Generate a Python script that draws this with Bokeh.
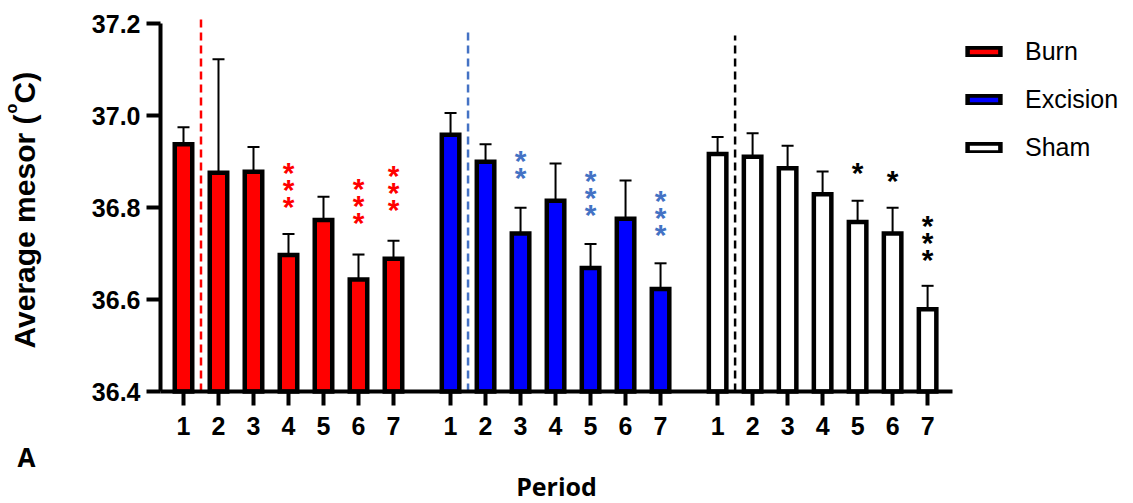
import math
from bokeh.plotting import figure
from bokeh.models import (Range1d, FixedTicker, Whisker, TeeHead, ColumnDataSource,
                          Legend, LegendItem, PrintfTickFormatter)
from bokeh.core.properties import value
from bokeh.embed import file_html
from bokeh.resources import INLINE

# ---------------- data ----------------
periods = [1, 2, 3, 4, 5, 6, 7]
groups = ["Burn", "Excision", "Sham"]

burn_mean = [36.938, 36.876, 36.878, 36.697, 36.773, 36.644, 36.689]
burn_sem = [0.037, 0.247, 0.054, 0.046, 0.051, 0.054, 0.039]
excision_mean = [36.959, 36.900, 36.744, 36.815, 36.669, 36.776, 36.623]
excision_sem = [0.047, 0.038, 0.056, 0.081, 0.052, 0.083, 0.056]
sham_mean = [36.917, 36.911, 36.886, 36.829, 36.769, 36.744, 36.579]
sham_sem = [0.037, 0.051, 0.049, 0.050, 0.046, 0.056, 0.051]

burn_sig = ["", "", "", "***", "", "***", "***"]
excision_sig = ["", "", "**", "", "***", "", "***"]
sham_sig = ["", "", "", "", "*", "*", "***"]

# annotation anchors (deg C) for lowest asterisk of each stack
burn_star_y = [None, None, None, 36.811, None, 36.776, 36.805]
excision_star_y = [None, None, 36.874, None, 36.794, None, 36.750]
sham_star_y = [None, None, None, None, 36.885, 36.868, 36.696]

# dashed marker line tops (deg C), one per group
marker_top = [37.211, 37.192, 37.175]

y_ticks = [36.4, 36.6, 36.8, 37.0, 37.2]

y_title_parts = ["Average mesor (", "o", "C)"]
x_title = "Period"
panel_letter = "A"

# ---------------- styling / layout ----------------
GROUP_STEP = 7.63
fills = ["#FF0000", "#0000FF", "#FFFFFF"]
mark_colors = ["#FF0000", "#4472C4", "#000000"]
BASE = 36.4
Y_AXIS_TOP = 37.2
W, H = 1130, 503
AXIS_L, AXIS_R, AXIS_B = 160, 952, 391   # pixel positions of the drawn axes
PX_PER_X = 35.0
X0 = 0.343                                # x value at the y axis
PX_PER_Y = 459.5


def px_x(px):
    return X0 + (px - AXIS_L) / PX_PER_X


def px_y(py):
    return BASE + (AXIS_B - py) / PX_PER_Y


means = [burn_mean, excision_mean, sham_mean]
sems = [burn_sem, excision_sem, sham_sem]
sigs = [burn_sig, excision_sig, sham_sig]
star_ys = [burn_star_y, excision_star_y, sham_star_y]

p = figure(width=W, height=H,
           x_range=Range1d(px_x(0), px_x(W)), y_range=Range1d(px_y(H), px_y(0)),
           output_backend="svg", toolbar_location=None, min_border=0)
p.title.visible = False
p.xgrid.visible = False
p.ygrid.visible = False
p.outline_line_color = None
p.background_fill_color = "white"
p.border_fill_color = "white"

renderers = []
xs_all = []
labels_map = {}
star_x, star_yy, star_t, star_c, star_off = [], [], [], [], []
dash_x = []
for gi, g in enumerate(groups):
    xs = [per + gi * GROUP_STEP for per in periods]
    xs_all += xs
    for per, x in zip(periods, xs):
        labels_map[x] = str(per)
    src = ColumnDataSource(dict(
        x=xs, top=means[gi],
        upper=[m + s for m, s in zip(means[gi], sems[gi])]))
    r = p.vbar(x="x", top="top", bottom=BASE, width=0.5, source=src,
               fill_color=fills[gi], line_color="black", line_width=4.5,
               line_join="miter")
    renderers.append(r)
    p.add_layout(Whisker(source=src, base="x", upper="upper", lower="top",
                         dimension="height", line_width=2, line_color="black",
                         upper_head=TeeHead(size=12, line_width=2, line_color="black"),
                         lower_head=None))
    for x, s, sy in zip(xs, sigs[gi], star_ys[gi]):
        for k in range(len(s)):
            star_x.append(x)
            star_yy.append(sy)
            star_t.append("*")
            star_c.append(mark_colors[gi])
            star_off.append(4 - 17 * k)
    dash_x.append(periods[0] + 0.5 + gi * GROUP_STEP)

p.segment(x0=dash_x, y0=[BASE] * 3, x1=dash_x, y1=marker_top,
          line_color=mark_colors, line_width=2.5, line_dash="8 5")

star_src = ColumnDataSource(dict(x=star_x, y=star_yy, t=star_t, c=star_c, off=star_off))
p.text(x="x", y="y", text="t", source=star_src, text_color="c", y_offset="off",
       text_align="center", text_baseline="alphabetic",
       text_font=value("Liberation Sans"), text_font_style="bold",
       text_font_size="30px")

# axes, drawn at fixed positions inside a full-canvas frame
for ax in [p.xaxis[0], p.yaxis[0]]:
    ax.axis_line_width = 4
    ax.axis_line_color = "black"
    ax.major_tick_line_width = 4
    ax.major_tick_line_color = "black"
    ax.major_tick_out = 14
    ax.major_tick_in = 0
    ax.minor_tick_line_color = None
    ax.major_label_text_font = "Liberation Sans"
    ax.major_label_text_font_style = "bold"
    ax.major_label_text_font_size = "25px"
    ax.major_label_text_color = "black"

p.yaxis.fixed_location = X0
p.yaxis.bounds = (BASE, Y_AXIS_TOP)
p.yaxis.ticker = FixedTicker(ticks=y_ticks)
p.yaxis.formatter = PrintfTickFormatter(format="%.1f")
p.yaxis.major_label_standoff = 6
p.xaxis.fixed_location = BASE
p.xaxis.bounds = (X0, px_x(AXIS_R))
p.xaxis.ticker = FixedTicker(ticks=xs_all)
p.xaxis.major_label_overrides = labels_map
p.xaxis.major_label_standoff = 11
p.xaxis.axis_label = x_title
p.xaxis.axis_label_text_font = "Open Sans"
p.xaxis.axis_label_text_font_style = "bold"
p.xaxis.axis_label_text_font_size = "25px"
p.xaxis.axis_label_text_color = "black"
p.xaxis.axis_label_standoff = 31

# legend (screen offset from the canvas bottom-left)
legend = Legend(items=[LegendItem(label=g, renderers=[r]) for g, r in zip(groups, renderers)],
                location=(963, 341), glyph_width=41, glyph_height=11,
                label_standoff=21, label_height=30, spacing=18, padding=6, margin=0,
                border_line_color=None, background_fill_alpha=0,
                label_text_font="Liberation Sans", label_text_font_size="25px",
                label_text_color="black")
p.add_layout(legend)

# y title with superscript (rotated), and panel letter
title_px = [(24, 348), (11, 113), (24, 103)]
title_fs = ["30px", "16px", "30px"]
p.text(x=[px_x(a) for a, b in title_px], y=[px_y(b) for a, b in title_px],
       text=y_title_parts, angle=math.pi / 2, text_align="left",
       text_baseline="alphabetic", text_font=value("Liberation Sans"),
       text_font_style="bold", text_font_size=title_fs, text_color="black")
p.text(x=[px_x(17)], y=[px_y(456)], text=[panel_letter], text_align="left",
       text_baseline="alphabetic", text_font=value("Open Sans"),
       text_font_style="bold", text_font_size="26px", text_color="black")

open("out.html", "w").write(file_html(p, INLINE))
